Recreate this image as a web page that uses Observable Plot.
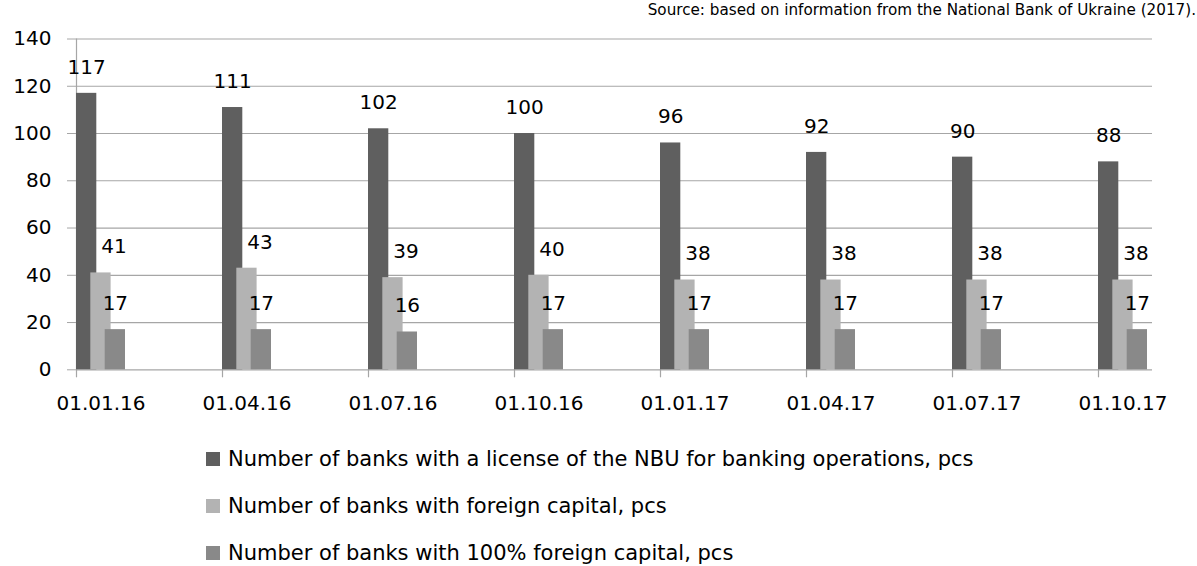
<!DOCTYPE html>
<html>
<head>
<meta charset="utf-8">
<script src="https://cdn.jsdelivr.net/npm/d3@7"></script>
<script src="https://cdn.jsdelivr.net/npm/@observablehq/plot@0.6"></script>
<style>
  body { margin: 0; background: #fff; font-family: "DejaVu Sans", sans-serif; color: #000; }
  #wrap { position: relative; width: 1197px; height: 566px; overflow: hidden; }
  #chart { position: absolute; left: 0; top: 0; }
  #source { position: absolute; top: 1px; right: 1px; font-size: 15.2px; line-height: 18px; white-space: nowrap; }
  #legend { position: absolute; left: 206px; top: 435.5px; }
  .row { display: flex; align-items: center; height: 47px; font-size: 21px; white-space: nowrap; }
  .sw { width: 14px; height: 14px; margin-right: 8px; flex: none; }
</style>
</head>
<body>
<div id="wrap">
  <div id="chart"></div>
  <div id="source"></div>
  <div id="legend"></div>
</div>
<script>
// ---- data ----
const dates = ["01.01.16", "01.04.16", "01.07.16", "01.10.16", "01.01.17", "01.04.17", "01.07.17", "01.10.17"];
const licensed = [117, 111, 102, 100, 96, 92, 90, 88];
const foreignCapital = [41, 43, 39, 40, 38, 38, 38, 38];
const fullForeignCapital = [17, 17, 16, 17, 17, 17, 17, 17];
const yTicks = [0, 20, 40, 60, 80, 100, 120, 140];
const seriesNames = [
  "Number of banks with a license of the NBU for banking operations, pcs",
  "Number of banks with foreign capital, pcs",
  "Number of banks with 100% foreign capital, pcs"
];
const sourceText = "Source: based on information from the National Bank of Ukraine (2017).";

// ---- styles ----
const colors = ["#5f5f5f", "#b3b3b3", "#898989"];
const gridColor = "#a6a6a6";

const rows = dates.map((d, i) => ({
  date: d,
  licensed: licensed[i],
  foreign: foreignCapital[i],
  full: fullForeignCapital[i]
}));

const chart = Plot.plot({
  width: 1197,
  height: 420,
  marginTop: 38.5,
  marginBottom: 50.7,
  marginLeft: 76,
  marginRight: 45,
  style: { fontFamily: "DejaVu Sans", fontSize: "20px", color: "#000", background: "transparent", overflow: "visible" },
  x: { type: "band", domain: dates, paddingInner: 0.666, paddingOuter: 0, align: 0, label: null },
  y: { domain: [0, 140], label: null },
  marks: [
    Plot.ruleY(yTicks, { stroke: gridColor, strokeWidth: 1.2 }),
    Plot.axisY({ ticks: yTicks, tickSize: 9, tickPadding: 16, stroke: gridColor, fill: "#000", label: null }),
    Plot.ruleX([dates[0]], { x: d => d, y1: 0, y2: 140, dx: -24.5, stroke: gridColor, strokeWidth: 1.2 }),
    Plot.ruleX(dates, { x: d => d, y1: 0, y2: 0, insetBottom: -8, dx: -24.5, stroke: gridColor, strokeWidth: 1.2 }),
    Plot.axisX({ tickSize: 0, tickPadding: 26, label: null, fill: "#000" }),
    Plot.barY(rows, { x: "date", y: "licensed", fill: colors[0], insetLeft: 0, insetRight: 28.7 }),
    Plot.barY(rows, { x: "date", y: "foreign", fill: colors[1], insetLeft: 14.3, insetRight: 14.4 }),
    Plot.barY(rows, { x: "date", y: "full", fill: colors[2], insetLeft: 28.7, insetRight: 0 }),
    Plot.text(rows, { x: "date", y: "licensed", text: d => String(d.licensed), dx: -14.35, dy: -26, fill: "#000" }),
    Plot.text(rows, { x: "date", y: "foreign", text: d => String(d.foreign), dx: 13, dy: -26, fill: "#000" }),
    Plot.text(rows, { x: "date", y: "full", text: d => String(d.full), dx: 14.35, dy: -26, fill: "#000" })
  ]
});
document.getElementById("chart").appendChild(chart);

document.getElementById("source").textContent = sourceText;

const legend = document.getElementById("legend");
seriesNames.forEach((name, i) => {
  const row = document.createElement("div");
  row.className = "row";
  const sw = document.createElement("span");
  sw.className = "sw";
  sw.style.background = colors[i];
  const label = document.createElement("span");
  label.textContent = name;
  row.appendChild(sw);
  row.appendChild(label);
  legend.appendChild(row);
});
</script>
</body>
</html>
